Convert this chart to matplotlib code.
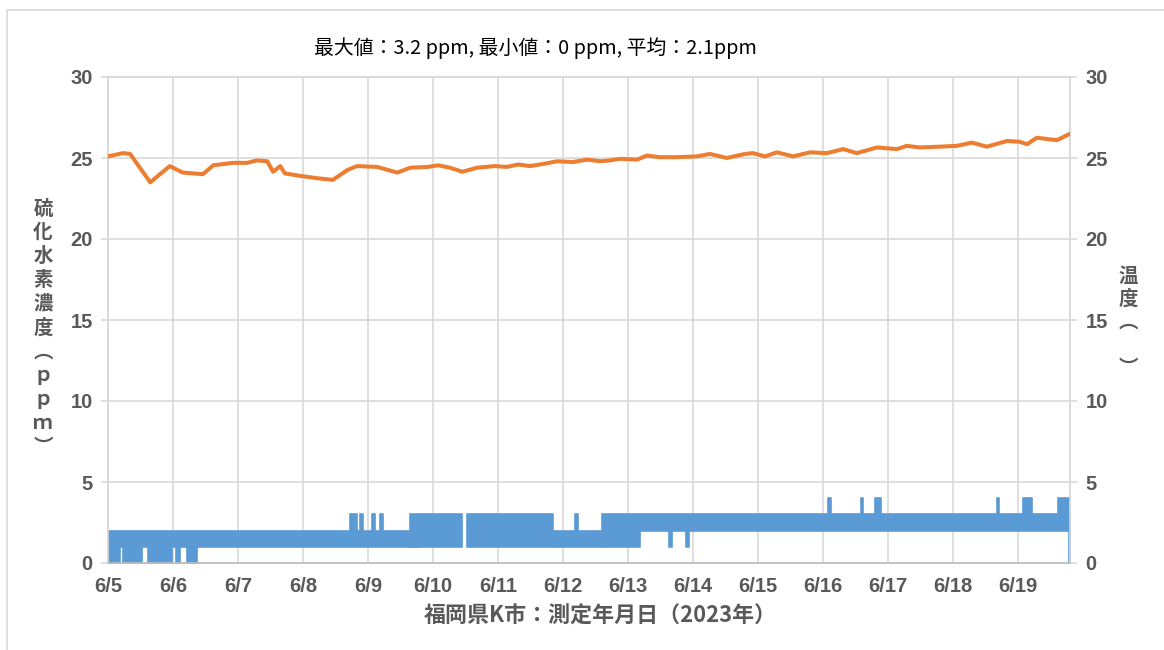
import numpy as np
import matplotlib
matplotlib.use("Agg")
import matplotlib.pyplot as plt
from matplotlib.patches import Rectangle

plt.rcParams['font.family'] = ['Noto Sans CJK JP', 'DejaVu Sans']

# x positions in days after 6/5
day_labels = ["6/5", "6/6", "6/7", "6/8", "6/9", "6/10", "6/11", "6/12",
              "6/13", "6/14", "6/15", "6/16", "6/17", "6/18", "6/19"]

# temperature (right axis)
temp_day = [0.00, 0.23, 0.34, 0.65, 0.95, 1.15, 1.46, 1.62, 1.92, 2.14, 2.29, 2.45,
            2.54, 2.65, 2.72, 2.95, 3.22, 3.46, 3.68, 3.83, 4.14, 4.45, 4.65, 4.92,
            5.08, 5.26, 5.45, 5.68, 5.95, 6.14, 6.31, 6.49, 6.72, 6.91, 7.15, 7.37,
            7.57, 7.72, 7.88, 8.14, 8.29, 8.49, 8.75, 9.06, 9.26, 9.52, 9.80, 9.92,
            10.11, 10.29, 10.54, 10.80, 11.06, 11.31, 11.52, 11.83, 12.14, 12.29,
            12.49, 12.80, 13.06, 13.29, 13.52, 13.83, 14.03, 14.14, 14.29, 14.60, 14.80]
temp_val = [25.1, 25.3, 25.25, 23.5, 24.5, 24.1, 24.0, 24.55, 24.7, 24.7, 24.85, 24.8,
            24.15, 24.5, 24.05, 23.9, 23.75, 23.65, 24.25, 24.5, 24.45, 24.1, 24.4, 24.45,
            24.55, 24.4, 24.15, 24.4, 24.5, 24.45, 24.6, 24.5, 24.65, 24.8, 24.75, 24.9,
            24.8, 24.85, 24.95, 24.9, 25.15, 25.05, 25.05, 25.1, 25.25, 25.0, 25.25, 25.3,
            25.1, 25.35, 25.1, 25.35, 25.3, 25.55, 25.3, 25.65, 25.55, 25.75,
            25.65, 25.7, 25.75, 25.95, 25.7, 26.05, 26.0, 25.85, 26.25, 26.1, 26.5]

# H2S readings (left axis): spans of days where the reading flickers between low and high
h2s_start = [0.00, 0.00, 0.23, 0.62, 1.05, 1.22, 3.72, 3.88, 4.06, 4.18,
             4.65, 5.52, 6.85, 7.18, 7.60, 8.18, 8.63, 8.89, 9.00,
             11.08, 11.58, 11.80, 13.68, 14.08, 14.62, 14.78]
h2s_end = [4.80, 0.18, 0.52, 0.98, 1.11, 1.37, 3.83, 3.92, 4.11, 4.23,
           5.45, 6.85, 7.60, 7.23, 8.18, 9.00, 8.68, 8.94, 14.80,
           11.12, 11.62, 11.89, 13.71, 14.22, 14.78, 14.80]
h2s_low = [1, 0, 0, 0, 0, 0, 2, 2, 2, 2,
           1, 1, 1, 2, 1, 2, 1, 1, 2,
           3, 3, 3, 3, 3, 3, 0]
h2s_high = [2, 1, 1, 1, 1, 1, 3, 3, 3, 3,
            3, 3, 2, 3, 3, 3, 2, 2, 3,
            4, 4, 4, 4, 4, 4, 2]

title = "最大値：3.2 ppm, 最小値：0 ppm, 平均：2.1ppm"
xlabel = "福岡県K市：測定年月日（2023年）"
ylabel_left = ["硫", "化", "水", "素", "濃", "度", "︵", "ｐ", "ｐ", "ｍ", "︶"]
ylabel_right = ["温", "度", "︵", "", "︶"]

BLUE = "#5B9BD5"
ORANGE = "#ED7D31"
GRID = "#D9D9D9"
TXT = "#595959"

W, H = 1164, 650
fig = plt.figure(figsize=(W / 100, H / 100), dpi=100)
ax = fig.add_axes([108 / W, 1 - 563 / H, (1070 - 108) / W, (563 - 77) / H])
ax2 = ax.twinx()

for s, e, lo, hi in zip(h2s_start, h2s_end, h2s_low, h2s_high):
    ax.fill_between([s, e], [lo, lo], [hi, hi], color=BLUE, lw=1.2, zorder=3)

ax2.plot(temp_day, temp_val, color=ORANGE, lw=2.9, solid_capstyle="round",
         solid_joinstyle="round", zorder=3)

for a in (ax, ax2):
    a.set_xlim(0, 14.8)
    a.set_ylim(0, 30)
    a.set_yticks(range(0, 31, 5))
    for sp in a.spines.values():
        sp.set_color(GRID)
        sp.set_linewidth(1.2)
    a.tick_params(axis="y", colors=GRID, labelcolor=TXT, labelsize=14.5, length=5, width=1.2, pad=6)
    for lab in a.get_yticklabels():
        lab.set_fontweight("bold")
        lab.set_fontfamily("Liberation Sans")

ax.set_xticks(range(len(day_labels)))
ax.set_xticklabels(day_labels, fontsize=14.5, fontweight="bold", color=TXT, fontfamily="Liberation Sans")
ax.tick_params(axis="x", length=0, pad=10)
ax.grid(True, color=GRID, lw=1.2, zorder=0)
ax.set_axisbelow(True)
ax2.spines["bottom"].set_color("#BFBFBF")

fig.text(535 / W, 1 - 48 / H, title, ha="center", va="center", fontsize=14.3, color="#000000")
fig.text(600 / W, 1 - 616 / H, xlabel, ha="center", va="center", fontsize=15.8,
         fontweight="bold", color=TXT)

for i, ch in enumerate(ylabel_left):
    fig.text(43 / W, 1 - (209 + i * 23.8) / H, ch, ha="center", va="center", fontsize=14,
             fontweight="bold", color=TXT)
for i, ch in enumerate(ylabel_right):
    fig.text(1128 / W, 1 - (276 + i * 23) / H, ch, ha="center", va="center", fontsize=14,
             fontweight="bold", color=TXT)

# outer chart frame
fig.patches.append(Rectangle((7 / W, -0.1), 1.2, 1 - 10 / H + 0.1, transform=fig.transFigure,
                             fill=False, ec=GRID, lw=1.2))

fig.savefig("out.png", dpi=100)
